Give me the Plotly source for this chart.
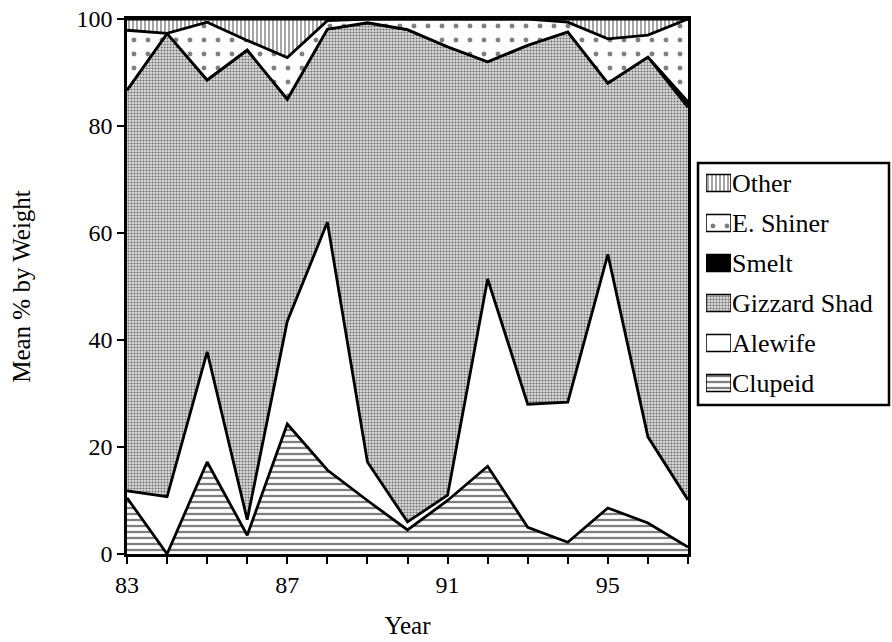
import plotly.graph_objects as go

years = [83, 84, 85, 86, 87, 88, 89, 90, 91, 92, 93, 94, 95, 96, 97]
clupeid = [10.5, 0.0, 17.2, 3.5, 24.3, 15.7, 10.0, 4.5, 10.0, 16.4, 5.0, 2.2, 8.6, 5.8, 1.3]
alewife = [1.3, 10.7, 20.6, 2.9, 19.2, 46.3, 7.2, 1.5, 1.0, 35.0, 23.0, 26.2, 47.4, 16.1, 8.8]
gizzard_shad = [74.9, 86.6, 50.8, 87.8, 41.5, 36.1, 82.1, 92.0, 83.8, 40.6, 67.1, 69.2, 32.0, 71.0, 73.4]
smelt = [0, 0, 0, 0, 0, 0, 0, 0, 0, 0, 0, 0, 0, 0, 1.0]
e_shiner = [11.2, 0.0, 10.8, 1.8, 7.8, 1.6, 0.7, 2.0, 5.2, 8.0, 4.9, 1.8, 8.3, 4.1, 15.5]
other = [2.1, 2.7, 0.6, 4.0, 7.2, 0.3, 0.0, 0.0, 0.0, 0.0, 0.0, 0.6, 3.7, 3.0, 0.0]

series_names = ["Clupeid", "Alewife", "Gizzard Shad", "Smelt", "E. Shiner", "Other"]
series_values = [clupeid, alewife, gizzard_shad, smelt, e_shiner, other]

x_tick_vals = [83, 87, 91, 95]
y_tick_vals = [0, 20, 40, 60, 80, 100]

FONT = "Liberation Serif, Times New Roman, serif"

styles = {
    "Clupeid": (dict(shape="-", fgcolor="black", bgcolor="white", size=6, solidity=0.38), "white"),
    "Alewife": (None, "white"),
    "Gizzard Shad": (dict(shape=".", fgcolor="black", bgcolor="#dcdcdc", size=3, solidity=0.4), "#a8a8a8"),
    "Smelt": (None, "black"),
    "E. Shiner": (dict(shape=".", fgcolor="black", bgcolor="white", size=14, solidity=0.1), "white"),
    "Other": (dict(shape="|", fgcolor="black", bgcolor="white", size=4, solidity=0.35), "white"),
}

fig = go.Figure()
for name, vals in zip(series_names, series_values):
    pat, fc = styles[name]
    kw = dict(
        x=years, y=vals, name=name, mode="lines", stackgroup="one",
        line=dict(color="black", width=2.8), fillcolor=fc,
        showlegend=False, hoverinfo="x+y+name",
    )
    if pat:
        kw["fillpattern"] = pat
    fig.add_trace(go.Scatter(**kw))

# Legend swatches drawn as bars on a small auxiliary axis pair
for name in series_names:
    pat, fc = styles[name]
    marker = dict(color=fc, line=dict(color="black", width=1.5))
    if pat:
        marker["pattern"] = dict(shape=pat["shape"], fgcolor=pat["fgcolor"], bgcolor=pat["bgcolor"],
                                 size=pat["size"], solidity=pat["solidity"])
    fig.add_trace(go.Bar(
        x=[1], y=[name], orientation="h", xaxis="x2", yaxis="y2",
        marker=marker, width=0.42, showlegend=False, hoverinfo="skip",
    ))

L, T, B = 127, 19, 88
W = 892 - L
plot_w = 561
xd = plot_w / W


def px_x(p):
    return (p - L) / W


def px_y(p):
    return (554 - p) / 535


fig.update_layout(
    width=892, height=642,
    margin=dict(l=L, r=0, t=T, b=B, autoexpand=False),
    paper_bgcolor="white", plot_bgcolor="white",
    font=dict(family=FONT, size=24, color="black"),
    showlegend=False,
    xaxis=dict(
        domain=[0, xd], anchor="y",
        range=[83, 97], tickvals=x_tick_vals, ticktext=[str(v) for v in x_tick_vals],
        ticks="outside", ticklen=7, tickwidth=1.5, tickcolor="black",
        minor=dict(dtick=1, tick0=83, ticks="outside", ticklen=7, tickwidth=1.5, tickcolor="black"),
        showline=True, linecolor="black", linewidth=2.5, mirror=True,
        showgrid=False, zeroline=False, ticklabeloverflow="allow",
        title=dict(text="Year", font=dict(family=FONT, size=25), standoff=20),
        tickfont=dict(family=FONT, size=24),
    ),
    yaxis=dict(
        domain=[0, 1], anchor="x",
        range=[0, 100], tickvals=y_tick_vals,
        ticks="outside", ticklen=7, tickwidth=1.5, tickcolor="black",
        showline=True, linecolor="black", linewidth=2.5, mirror=True,
        showgrid=False, zeroline=False, ticklabeloverflow="allow",
        title=dict(text="Mean % by Weight", font=dict(family=FONT, size=25), standoff=39),
        tickfont=dict(family=FONT, size=24),
    ),
    xaxis2=dict(
        domain=[px_x(706), px_x(731)], anchor="y2", range=[0, 1],
        visible=False, fixedrange=True,
    ),
    yaxis2=dict(
        domain=[px_y(403), px_y(163)], anchor="x2", side="right",
        type="category", categoryorder="array", categoryarray=series_names,
        range=[-0.5, len(series_names) - 0.5],
        showline=False, showgrid=False, zeroline=False, ticks="",
        tickfont=dict(family=FONT, size=26), fixedrange=True,
    ),
    shapes=[dict(
        type="rect", xref="paper", yref="paper",
        x0=px_x(698), x1=px_x(889), y0=px_y(405), y1=px_y(163),
        line=dict(color="black", width=2.5), fillcolor="rgba(0,0,0,0)", layer="below",
    )],
)

fig.write_html("out.html", config={"displayModeBar": False},
               post_script="document.body.style.margin='0';")
